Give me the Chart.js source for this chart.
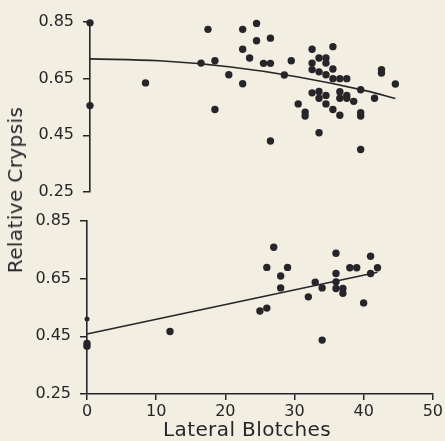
<!DOCTYPE html>
<html>
<head>
<meta charset="utf-8">
<script src="https://cdn.jsdelivr.net/npm/chart.js@4.4.0/dist/chart.umd.min.js"></script>
<style>
  html, body { margin: 0; padding: 0; }
  body { width: 445px; height: 441px; background: #f2eee2; position: relative; overflow: hidden; font-family: "DejaVu Sans", sans-serif; color: #26262a; }
  canvas { position: absolute; left: 0; top: 0; }
  .ytitle { position: absolute; left: 15px; top: 190px; transform: translate(-50%, -50%) rotate(-90deg); font-size: 20px; letter-spacing: 0.4px; white-space: nowrap; }
  .xtitle { position: absolute; left: 247px; top: 429px; transform: translate(-50%, -50%); font-size: 20px; letter-spacing: 0.4px; white-space: nowrap; }
</style>
</head>
<body>
<canvas id="topChart" width="445" height="441"></canvas>
<canvas id="bottomChart" width="445" height="441"></canvas>
<div class="ytitle">Relative Crypsis</div>
<div class="xtitle">Lateral Blotches</div>
<script>
// upper panel
const topX = [0, 0, 8, 17, 16, 18, 18, 22, 24, 24, 26, 22, 23, 25, 26, 29, 20, 22, 28, 32, 35, 33, 34, 32, 34, 32, 33, 34, 35, 35, 36, 37, 39, 42, 42, 44, 41, 32, 33, 34, 33, 36, 36, 37, 37, 38, 34, 35, 36, 30, 31, 31, 39, 39, 33, 26, 39];
const topY = [0.847, 0.555, 0.635, 0.824, 0.705, 0.713, 0.541, 0.824, 0.845, 0.784, 0.793, 0.754, 0.723, 0.704, 0.704, 0.713, 0.664, 0.632, 0.663, 0.754, 0.763, 0.723, 0.723, 0.705, 0.705, 0.682, 0.674, 0.664, 0.684, 0.65, 0.65, 0.65, 0.611, 0.682, 0.67, 0.631, 0.581, 0.6, 0.605, 0.591, 0.581, 0.604, 0.581, 0.591, 0.581, 0.57, 0.561, 0.541, 0.521, 0.561, 0.532, 0.518, 0.53, 0.518, 0.459, 0.43, 0.4];
const topFitX = [0, 10, 20, 30, 40, 44];
const topFitY = [0.72, 0.713, 0.692, 0.656, 0.606, 0.58];

// lower panel
const botX = [0, 0, 0, 12, 27, 26, 29, 28, 28, 25, 26, 32, 33, 34, 34, 36, 36, 36, 36, 37, 37, 38, 39, 40, 41, 41, 42];
const botY = [0.51, 0.425, 0.416, 0.467, 0.759, 0.689, 0.689, 0.659, 0.618, 0.538, 0.548, 0.587, 0.638, 0.618, 0.437, 0.738, 0.668, 0.639, 0.616, 0.616, 0.599, 0.688, 0.688, 0.566, 0.728, 0.668, 0.688];
const botRadius = [2.5];
const botFitX = [0, 42];
const botFitY = [0.458, 0.672];

const yTicks = [0.25, 0.45, 0.65, 0.85];
const xTicks = [0, 10, 20, 30, 40, 50];

const ink = "#26262a";
const font = { family: "DejaVu Sans", size: 16 };

function toPoints(xs, ys) {
  return xs.map((x, i) => ({ x: x, y: ys[i] }));
}

function makePanel(id, pts, fit, opts) {
  const ctx = document.getElementById(id);
  new Chart(ctx, {
    type: "scatter",
    data: {
      datasets: [
        {
          data: fit,
          showLine: true,
          borderColor: ink,
          borderWidth: 1.6,
          pointRadius: 0,
          cubicInterpolationMode: "monotone",
          clip: false,
        },
        {
          data: pts,
          backgroundColor: ink,
          borderColor: ink,
          borderWidth: 0,
          pointRadius: opts.radius,
          clip: false,
        },
      ],
    },
    options: {
      responsive: false,
      animation: false,
      layout: {
        padding: { top: opts.top, bottom: opts.bottom, left: 0, right: opts.right },
      },
      plugins: {
        legend: { display: false },
        tooltip: { enabled: false },
      },
      scales: {
        x: {
          type: "linear",
          min: 0,
          max: 50,
          display: opts.showX,
          afterBuildTicks: function (scale) {
            scale.ticks = xTicks.map((v) => ({ value: v }));
          },
          afterFit: function (scale) {
            scale.height = opts.showX ? 47 : 0;
          },
          ticks: { color: ink, font: font, padding: 2 },
          grid: { drawOnChartArea: false, drawTicks: true, tickLength: 6, color: ink, lineWidth: 1.5 },
          border: { color: ink, width: 1.6 },
        },
        y: {
          type: "linear",
          min: 0.25,
          max: 0.85,
          afterBuildTicks: function (scale) {
            scale.ticks = yTicks.map((v) => ({ value: v }));
          },
          afterFit: function (scale) {
            scale.width = opts.left;
          },
          ticks: {
            color: ink,
            font: font,
            padding: 9,
            callback: function (value) {
              return value.toFixed(2);
            },
          },
          grid: { drawOnChartArea: false, drawTicks: true, tickLength: 7, color: ink, lineWidth: 1.5 },
          border: { color: ink, width: 1.6 },
        },
      },
    },
  });
}

makePanel("topChart", toPoints(topX, topY), toPoints(topFitX, topFitY), {
  top: 22, bottom: 249, left: 90, right: 8, showX: false, radius: 3.7,
});

makePanel("bottomChart", toPoints(botX, botY), toPoints(botFitX, botFitY), {
  top: 221, bottom: 0, left: 87, right: 11, showX: true,
  radius: botX.map((x, i) => (i < botRadius.length ? botRadius[i] : 3.7)),
});
</script>
</body>
</html>
